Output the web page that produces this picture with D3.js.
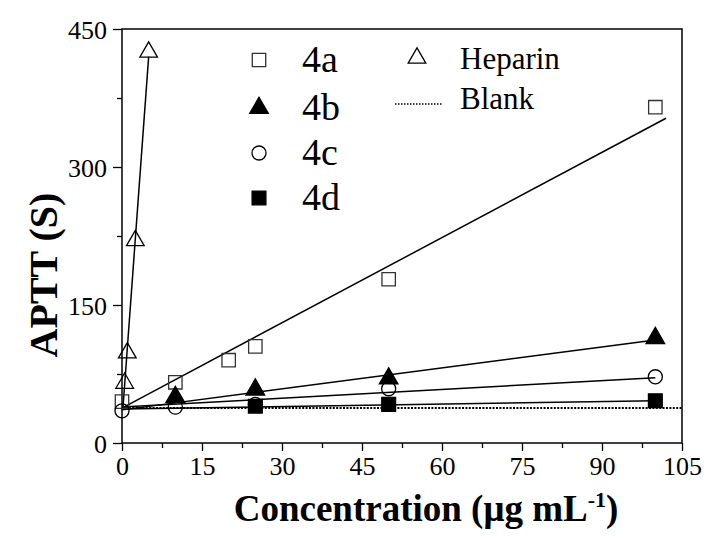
<!DOCTYPE html>
<html><head><meta charset="utf-8">
<script src="https://cdn.jsdelivr.net/npm/d3@7/dist/d3.min.js"></script>
<style>
html,body{margin:0;padding:0;background:#fff;}
svg{display:block;}
text{font-family:"Liberation Serif","Times New Roman",serif;fill:#000;}
</style></head>
<body>
<svg id="chart" width="704" height="536"></svg>
<script>
// ---- data ----
const xTicks = [0, 15, 30, 45, 60, 75, 90, 105];
const yTicks = [0, 150, 300, 450];
const xMinor = [7.5, 22.5, 37.5, 52.5, 67.5, 82.5, 97.5];
const yMinor = [75, 225, 375];

const x4a = [0, 10, 20, 25, 50, 100];
const y4a = [45, 66, 90, 105, 178, 365];
const x4b = [10, 25, 50, 100];
const y4b = [50, 58, 70, 114];
const x4c = [0, 10, 25, 50, 100];
const y4c = [35, 39, 42, 59, 72];
const x4d = [25, 50, 100];
const y4d = [40, 42, 46];
const xHep = [0.5, 1, 2.5, 5];
const yHep = [65, 98, 220, 425];
const blankValue = 38;

// fitted lines (end points)
const fit4aX = [0, 102], fit4aY = [38, 353];
const fit4bX = [0, 100], fit4bY = [36, 112];
const fit4cX = [0, 100], fit4cY = [39, 71];
const fit4dX = [0, 100], fit4dY = [37, 46];
const fitHepX = [0.2, 5], fitHepY = [40, 420];

// ---- layout ----
const L = 122, R = 682, T = 29, B = 443;
const svg = d3.select("#chart");
const x = d3.scaleLinear().domain([0, 105]).range([L, R]);
const y = d3.scaleLinear().domain([0, 450]).range([B, T]);

// axes
const gx = svg.append("g").attr("transform", `translate(0,${B})`)
  .call(d3.axisBottom(x).tickValues(xTicks).tickSize(8).tickPadding(6).tickFormat(d3.format("d")));
const gxm = svg.append("g").attr("transform", `translate(0,${B})`)
  .call(d3.axisBottom(x).tickValues(xMinor).tickSize(5).tickFormat(""));
const gy = svg.append("g").attr("transform", `translate(${L},0)`)
  .call(d3.axisLeft(y).tickValues(yTicks).tickSize(9).tickPadding(6).tickFormat(d3.format("d")));
const gym = svg.append("g").attr("transform", `translate(${L},0)`)
  .call(d3.axisLeft(y).tickValues(yMinor).tickSize(5).tickFormat(""));
[gx, gxm, gy, gym].forEach(g => {
  g.select(".domain").remove();
  g.selectAll(".tick line").attr("stroke", "#000").attr("stroke-width", 1.3);
  g.selectAll(".tick text").style("font-size", "26px")
    .style("font-family", '"Liberation Serif","Times New Roman",serif');
});
gy.selectAll(".tick text").attr("dy", "0.35em");

// frame
svg.append("rect").attr("x", L).attr("y", T).attr("width", R - L).attr("height", B - T)
  .attr("fill", "none").attr("stroke", "#000").attr("stroke-width", 1.5);

// axis titles
svg.append("text").attr("x", 426).attr("y", 521).attr("text-anchor", "middle")
  .style("font-size", "37px").style("font-weight", "bold")
  .html('Concentration (μg mL<tspan dy="-14" style="font-size:22px">-1</tspan><tspan dy="14">)</tspan>');
svg.append("text").attr("transform", "translate(57,275) rotate(-90)").attr("text-anchor", "middle")
  .style("font-size", "40px").style("font-weight", "bold").text("APTT (S)");

// lines
const line = d3.line().x(d => x(d[0])).y(d => y(d[1]));
const fits = [[fit4aX, fit4aY], [fit4bX, fit4bY], [fit4cX, fit4cY], [fit4dX, fit4dY], [fitHepX, fitHepY]];
fits.forEach(([fx, fy]) => {
  svg.append("path").datum(fx.map((v, i) => [v, fy[i]])).attr("d", line)
    .attr("fill", "none").attr("stroke", "#000").attr("stroke-width", 1.5);
});
svg.append("path").datum([[0, blankValue], [105, blankValue]]).attr("d", line)
  .attr("fill", "none").attr("stroke", "#000").attr("stroke-width", 2).attr("stroke-dasharray", "2,1.4");

// markers
const sym = (type, size) => d3.symbol().type(type).size(size)();
const styles = {
  a: {d: sym(d3.symbolSquare, 180), fill: "none", stroke: "#333"},
  b: {d: sym(d3.symbolTriangle, 150), fill: "#000", stroke: "#000"},
  c: {d: sym(d3.symbolCircle, 155), fill: "none", stroke: "#000"},
  dd: {d: sym(d3.symbolSquare, 190), fill: "#000", stroke: "#000"},
  h: {d: sym(d3.symbolTriangle, 135), fill: "none", stroke: "#000"}
};
function drawPts(xs, ys, st) {
  svg.append("g").selectAll("path").data(xs.map((v, i) => [v, ys[i]])).join("path")
    .attr("transform", d => `translate(${x(d[0])},${y(d[1])})`)
    .attr("d", st.d).attr("fill", st.fill).attr("stroke", st.stroke).attr("stroke-width", 1.3);
}
drawPts(x4a, y4a, styles.a);
drawPts(x4b, y4b, styles.b);
drawPts(x4c, y4c, styles.c);
drawPts(x4d, y4d, styles.dd);
drawPts(xHep, yHep, styles.h);

// legend
const legNames = ["4a", "4b", "4c", "4d"];
const legStyles = [styles.a, styles.b, styles.c, styles.dd];
const legY = [60, 108, 153, 198];
legNames.forEach((n, i) => {
  svg.append("path").attr("transform", `translate(259,${legY[i]})`).attr("d", legStyles[i].d)
    .attr("fill", legStyles[i].fill).attr("stroke", legStyles[i].stroke).attr("stroke-width", 1.3);
  svg.append("text").attr("x", 302).attr("y", legY[i] + 12).style("font-size", "38px").text(n);
});
svg.append("path").attr("transform", "translate(417,58)").attr("d", styles.h.d)
  .attr("fill", "none").attr("stroke", "#000").attr("stroke-width", 1.3);
svg.append("text").attr("x", 460).attr("y", 69).style("font-size", "31px").text("Heparin");
svg.append("line").attr("x1", 395).attr("x2", 443).attr("y1", 104).attr("y2", 104)
  .attr("stroke", "#000").attr("stroke-width", 1.5).attr("stroke-dasharray", "1.5,1.5");
svg.append("text").attr("x", 460).attr("y", 109).style("font-size", "31px").text("Blank");
</script>
</body></html>
